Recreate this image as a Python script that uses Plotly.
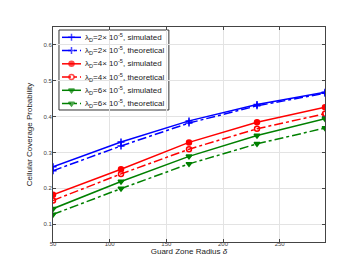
import plotly.graph_objects as go

x = [50, 110, 170, 230, 290]
blue_sim = [0.260, 0.329, 0.388, 0.434, 0.468]
blue_th = [0.249, 0.318, 0.382, 0.430, 0.465]
red_sim = [0.182, 0.253, 0.328, 0.384, 0.426]
red_th = [0.166, 0.240, 0.309, 0.366, 0.408]
green_sim = [0.143, 0.219, 0.289, 0.347, 0.394]
green_th = [0.127, 0.199, 0.268, 0.324, 0.368]

names = [
    "λ<sub>D</sub>=2× 10<sup>-5</sup>, simulated",
    "λ<sub>D</sub>=2× 10<sup>-5</sup>, theoretical",
    "λ<sub>D</sub>=4× 10<sup>-5</sup>, simulated",
    "λ<sub>D</sub>=4× 10<sup>-5</sup>, theoretical",
    "λ<sub>D</sub>=6× 10<sup>-5</sup>, simulated",
    "λ<sub>D</sub>=6× 10<sup>-5</sup>, theoretical",
]
series = [blue_sim, blue_th, red_sim, red_th, green_sim, green_th]
colors = ["#0000FF", "#0000FF", "#FF0000", "#FF0000", "#008000", "#008000"]
dashes = ["solid", "dashdot", "solid", "dashdot", "solid", "dashdot"]
symbols = ["cross-thin", "cross-thin", "circle", "circle-open", "triangle-down", "triangle-down"]

fig = go.Figure()
for n, s, c, d, m in zip(names, series, colors, dashes, symbols):
    fig.add_trace(go.Scatter(
        x=x, y=s, name=n, mode="lines+markers", showlegend=False,
        line=dict(color=c, width=1.5, dash=d),
        marker=dict(symbol=m, size=5, color=c, line=dict(color=c, width=1.5)),
    ))

# custom compact legend (paper coordinates of the plot area)
box_x0, box_x1, box_y0, box_y1 = 0.022, 0.426, 0.614, 0.986
row_top, row_step = 0.952, 0.0616
ln_x0, ln_x1, txt_x = 0.033, 0.103, 0.110
fig.add_shape(type="rect", xref="paper", yref="paper",
              x0=box_x0, x1=box_x1, y0=box_y0, y1=box_y1,
              fillcolor="white", line=dict(color="#333", width=1), layer="between")
for i, (n, c, d, m) in enumerate(zip(names, colors, dashes, symbols)):
    yy = row_top - i * row_step
    fig.add_trace(go.Scatter(
        x=[ln_x0, (ln_x0 + ln_x1) / 2, ln_x1], y=[yy, yy, yy],
        xaxis="x2", yaxis="y2", mode="lines+markers", showlegend=False,
        hoverinfo="skip",
        line=dict(color=c, width=1.5, dash=d),
        marker=dict(symbol=m, size=[0, 5, 0], color=c, line=dict(color=c, width=1.5)),
    ))
    fig.add_annotation(x=txt_x, y=yy, xref="paper", yref="paper", text=n,
                       showarrow=False, xanchor="left", yanchor="middle",
                       font=dict(size=8, color="#222"))

axis_common = dict(
    showgrid=True, gridcolor="#e3e3e3", gridwidth=1,
    showline=True, linecolor="#444", linewidth=1, mirror="ticks",
    ticks="inside", ticklen=3, tickcolor="#444",
    tickfont=dict(size=6, color="#444"), zeroline=False,
)

fig.update_layout(
    width=350, height=263,
    margin=dict(l=45, r=33, t=19, b=29),
    paper_bgcolor="white", plot_bgcolor="white",
    font=dict(family="Liberation Sans, Arial, sans-serif", color="#222"),
    showlegend=False,
    xaxis=dict(
        range=[50, 290], tickvals=[50, 100, 150, 200, 250],
        ticklabelstandoff=-4,
        title=dict(text="Guard Zone Radius <i>δ</i>", font=dict(size=8, color="#222"), standoff=0),
        **axis_common,
    ),
    yaxis=dict(
        range=[0.05, 0.65], tickvals=[0.1, 0.2, 0.3, 0.4, 0.5, 0.6],
        ticklabelstandoff=-1,
        title=dict(text="Cellular Coverage Probability", font=dict(size=8, color="#222"), standoff=9),
        **axis_common,
    ),
    xaxis2=dict(overlaying="x", range=[0, 1], visible=False, fixedrange=True),
    yaxis2=dict(overlaying="y", range=[0, 1], visible=False, fixedrange=True),
)

fig.write_html("out.html")
